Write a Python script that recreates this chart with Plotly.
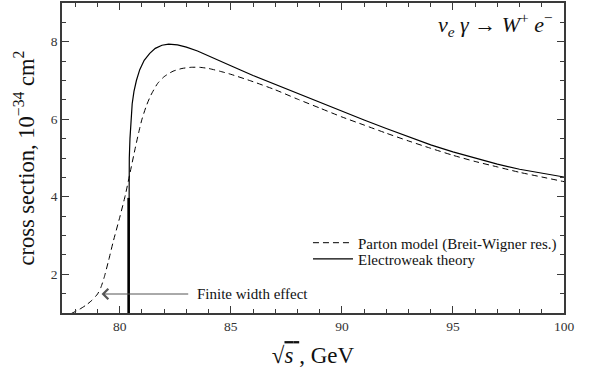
import plotly.graph_objects as go

# Parton model (Breit-Wigner resonance) - dashed
pm_x = [77.80, 78.20, 78.50, 78.75, 79.00, 79.15, 79.30, 79.50, 79.70, 80.00, 80.25, 80.45,
        80.68, 80.85, 81.00, 81.20, 81.40, 81.70, 82.00, 82.40, 82.80, 83.20, 83.60, 84.00,
        84.50, 85.00, 86.00, 87.00, 88.00, 89.00, 90.00, 91.00, 92.00, 93.00, 94.00, 95.00,
        96.00, 97.00, 98.00, 99.00, 100.00]
pm_y = [0.98, 1.10, 1.21, 1.33, 1.49, 1.66, 1.92, 2.36, 2.83, 3.47, 4.04, 4.58,
        5.21, 5.65, 6.00, 6.35, 6.62, 6.92, 7.10, 7.24, 7.31, 7.34, 7.34, 7.31,
        7.24, 7.16, 6.97, 6.76, 6.52, 6.29, 6.06, 5.85, 5.64, 5.44, 5.25, 5.07,
        4.91, 4.77, 4.63, 4.51, 4.39]

# Electroweak theory - solid
ew_x = [80.40, 80.40, 80.41, 80.43, 80.46, 80.50, 80.56, 80.64, 80.75, 80.90, 81.10, 81.35,
        81.60, 81.90, 82.20, 82.60, 83.00, 83.50, 84.00, 84.50, 85.00, 86.00, 87.00, 88.00,
        89.00, 90.00, 91.00, 92.00, 93.00, 94.00, 95.00, 96.00, 97.00, 98.00, 99.00, 100.00]
ew_y = [1.00, 4.00, 4.45, 5.00, 5.50, 6.00, 6.40, 6.72, 7.00, 7.28, 7.52, 7.70,
        7.83, 7.91, 7.94, 7.92, 7.86, 7.76, 7.64, 7.51, 7.38, 7.13, 6.90, 6.66,
        6.42, 6.20, 5.98, 5.76, 5.54, 5.34, 5.16, 4.99, 4.84, 4.71, 4.61, 4.51]

# threshold segment of the electroweak curve (drawn bold)
thr_x = [80.40, 80.40]
thr_y = [1.00, 3.97]

# arrow "Finite width effect"
arrow_head = (79.18, 1.49)
arrow_tail = (83.15, 1.49)
arrow_text_x = 83.40

x_range = [77.4, 100]
y_range = [1, 9]
x_ticks = [80, 85, 90, 95, 100]
y_ticks = [2, 4, 6, 8]

SERIF = "Liberation Serif, Times New Roman, serif"
AX = "#3a3a3a"

fig = go.Figure()
fig.add_trace(go.Scatter(x=pm_x, y=pm_y, mode="lines", name="Parton model (Breit-Wigner res.)",
                         legend="legend",
                         line=dict(color="black", width=1, dash="6px,4px", shape="spline",
                                   smoothing=0.6)))
fig.add_trace(go.Scatter(x=ew_x, y=ew_y, mode="lines", name="Electroweak theory",
                         legend="legend2",
                         line=dict(color="black", width=1.2)))
fig.add_trace(go.Scatter(x=thr_x, y=thr_y, mode="lines", showlegend=False,
                         line=dict(color="black", width=2.6)))

axis_common = dict(showgrid=False, zeroline=False, showline=True, linecolor=AX, linewidth=1.6,
                   mirror="allticks", ticks="inside", ticklen=7, tickwidth=1.2, tickcolor=AX,
                   automargin=False,
                   tickfont=dict(family=SERIF, size=13.5, color="#333"))

fig.update_xaxes(range=x_range, tickvals=x_ticks,
                 minor=dict(dtick=1, ticks="inside", ticklen=4, tickwidth=1, tickcolor=AX),
                 title=dict(text="√<span style='text-decoration:overline'><i>s</i> </span>, GeV",
                            font=dict(family=SERIF, size=23, color="#111"), standoff=14),
                 **axis_common)
fig.update_yaxes(range=y_range, tickvals=y_ticks,
                 minor=dict(dtick=0.5, ticks="inside", ticklen=4, tickwidth=1, tickcolor=AX),
                 title=dict(text="cross section, 10<sup>−34</sup> cm<sup>2</sup>",
                            font=dict(family=SERIF, size=22.5, color="#111"), standoff=10),
                 **axis_common)

fig.add_annotation(x=arrow_head[0], y=arrow_head[1], ax=arrow_tail[0], ay=arrow_tail[1],
                   xref="x", yref="y", axref="x", ayref="y", text="", showarrow=True,
                   arrowhead=4, arrowsize=2, arrowwidth=1, arrowcolor="#555")
fig.add_annotation(x=arrow_text_x, y=arrow_head[1], xref="x", yref="y", xanchor="left",
                   yanchor="middle", text="Finite width effect", showarrow=False,
                   font=dict(family=SERIF, size=15, color="#111"))
fig.add_annotation(x=0.982, y=0.93, xref="paper", yref="paper", xanchor="right", yanchor="middle",
                   text="<i>ν<sub>e</sub> γ</i> → <i>W</i><sup>+</sup> <i>e</i><sup>−</sup>",
                   showarrow=False, font=dict(family=SERIF, size=22, color="#111"))

legend_common = dict(xanchor="left", yanchor="middle", bgcolor="rgba(0,0,0,0)",
                     font=dict(family=SERIF, size=15, color="#111"), itemwidth=40)
fig.update_layout(
    width=595, height=385,
    margin=dict(l=62, r=31, t=3, b=72),
    plot_bgcolor="white", paper_bgcolor="white",
    showlegend=True,
    legend=dict(x=0.49, y=0.226, **legend_common),
    legend2=dict(x=0.49, y=0.174, **legend_common),
)

fig.write_html("out.html", config={"displayModeBar": False},
               post_script="document.body.style.margin='0';")
